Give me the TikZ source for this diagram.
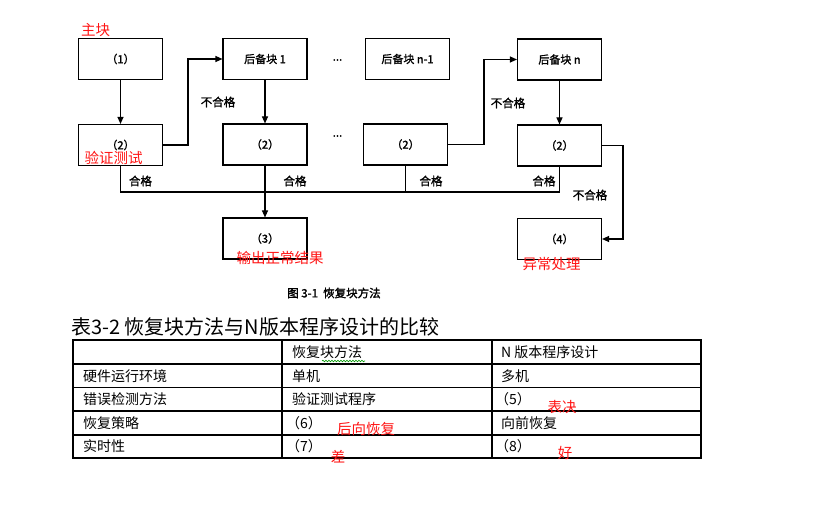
\documentclass[tikz,border=0pt]{standalone}
\usepackage{fontspec}
\setmainfont{Noto Sans CJK SC}
\newfontfamily\cjkb[FakeBold=1.6]{Noto Sans CJK SC}
\usetikzlibrary{arrows.meta,decorations.pathmorphing}
\definecolor{annred}{RGB}{255,20,20}
\begin{document}
\begin{tikzpicture}[x=1pt,y=-1pt,
  blk/.style={draw,line width=1.1pt,inner sep=0pt,minimum width=84pt,minimum height=41pt,
    font=\cjkb\fontsize{11}{13}\selectfont},
  arr/.style={line width=1.1pt,-{Triangle[length=7pt,width=6pt]}},
  ln/.style={line width=1.1pt},
  lab/.style={inner sep=0pt,font=\cjkb\fontsize{11.5}{13}\selectfont},
  ann/.style={inner sep=0pt,text=annred,font=\fontsize{14.5}{16}\selectfont},
  cell/.style={inner sep=0pt,anchor=west,font=\fontsize{14}{16}\selectfont},
  tl/.style={line width=1.2pt}]
\useasboundingbox (0,0) rectangle (840,510);
\fill[white] (0,0) rectangle (840,510);
% top row
\node[blk] (b1) at (120.5,59) {（1）};
\node[blk] (bk1) at (265,59) {后备块 1};
\node[blk] (bkn1) at (407.5,59) {后备块 n-1};
\node[blk] (bkn) at (559.5,59.5) {后备块 n};
% second row
\node[blk] (v1) at (120.5,145) {（2）};
\node[blk] (v2) at (265,144.5) {（2）};
\node[blk] (v3) at (405.5,144.5) {（2）};
\node[blk] (v4) at (559.5,145.5) {（2）};
% bottom row
\node[blk] (o3) at (265,238.5) {（3）};
\node[blk] (o4) at (559.5,239) {（4）};
% dots
\node[lab] (d1) at (337.5,60) {...};
\node[lab] (d2) at (337.5,136) {...};
% helper coordinates
\coordinate (j1) at (188,0);
\coordinate (j3) at (484,0);
\coordinate (j4) at (623,0);
\coordinate (bus) at (0,192);
% connectors
\draw[arr] (b1) -- (v1);
\draw[arr] (bk1) -- (v2);
\draw[arr] (bkn) -- (v4);
\draw[arr] (v1.east) -- (v1.east -| j1) -- (j1 |- bk1.west) -- (bk1.west);
\draw[arr] (v3.east) -- (v3.east -| j3) -- (j3 |- bkn.west) -- (bkn.west);
\draw[arr] (v4.east) -- (v4.east -| j4) -- (j4 |- o4.east) -- (o4.east);
\draw[ln] (v1.south) -- (v1.south |- bus) -- (v4.south |- bus) -- (v4.south);
\draw[ln] (v3.south) -- (v3.south |- bus);
\draw[arr] (v2.south) -- (o3.north);
% labels
\node[lab] (n1) at (218,102) {不合格};
\node[lab] (n2) at (508,103) {不合格};
\node[lab] (n3) at (590,195) {不合格};
\node[lab] (p1) at (140.5,181) {合格};
\node[lab] (p2) at (295,181) {合格};
\node[lab] (p3) at (431,181) {合格};
\node[lab] (p4) at (544,181) {合格};
% caption
\node[lab,anchor=west] (cap) at (287,293) {图 3-1\ \ 恢复块方法};
% red annotations
\node[ann] (a1) at (95.5,30) {主块};
\node[ann] (a2) at (113.5,158) {验证测试};
\node[ann] (a3) at (280,258) {输出正常结果};
\node[ann] (a4) at (551.5,264) {异常处理};
% table title
\node[inner sep=0pt,anchor=west,font=\fontsize{20}{22}\selectfont] (title) at (71,327) {表3-2 恢复块方法与N版本程序设计的比较};
% table grid
\draw[tl] (73,340) rectangle (701,458);
\draw[tl] (73,364) -- (701,364);
\draw[tl] (73,387.5) -- (701,387.5);
\draw[tl] (73,411) -- (701,411);
\draw[tl] (73,435) -- (701,435);
\draw[tl] (282,340) -- (282,458);
\draw[tl] (492,340) -- (492,458);
% table cells
\node[cell] (c12) at (292,352) {恢复块方法};
\node[cell] (c13) at (501,352) {N 版本程序设计};
\node[cell] (c21) at (83,376) {硬件运行环境};
\node[cell] (c22) at (292,376) {单机};
\node[cell] (c23) at (501,376) {多机};
\node[cell] (c31) at (83,399.5) {错误检测方法};
\node[cell] (c32) at (292,399.5) {验证测试程序};
\node[cell] (c33) at (495,399.5) {（5）};
\node[cell] (c41) at (83,423) {恢复策略};
\node[cell] (c42) at (286,423) {（6）};
\node[cell] (c43) at (501,423) {向前恢复};
\node[cell] (c51) at (83,446.5) {实时性};
\node[cell] (c52) at (286,446.5) {（7）};
\node[cell] (c53) at (495,446.5) {（8）};
% spell-check squiggle
\draw[green!60!black,line width=0.6pt,decorate,decoration={snake,amplitude=0.8pt,segment length=3pt}] (322,361) -- (365,361);
% table annotations
\node[ann] (t1) at (562,407) {表决};
\node[ann] (t2) at (366,429) {后向恢复};
\node[ann] (t3) at (338,457) {差};
\node[ann] (t4) at (565,453) {好};
\end{tikzpicture}
\end{document}
